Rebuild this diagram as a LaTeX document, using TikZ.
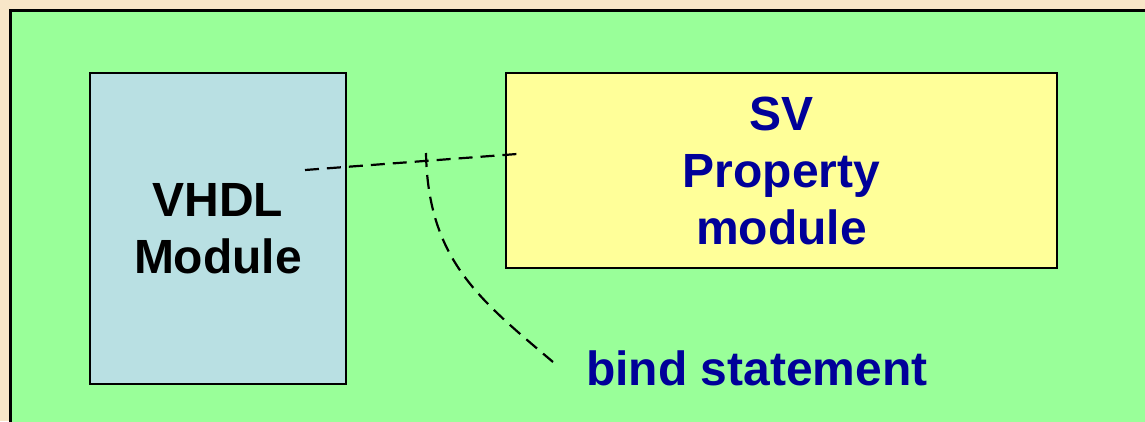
\documentclass[tikz,border=0pt]{standalone}
\usepackage{fontspec}
\setmainfont{Liberation Sans}
\usetikzlibrary{positioning}
\definecolor{pagebeige}{RGB}{248,230,200}
\definecolor{slidegreen}{RGB}{153,255,153}
\definecolor{vhdlblue}{RGB}{185,224,227}
\definecolor{svyellow}{RGB}{255,255,153}
\definecolor{textblue}{RGB}{0,0,153}

\begin{document}
\begin{tikzpicture}[x=1pt, y=-1pt,
    module/.style={rectangle, draw=black, line width=2pt, inner sep=0pt,
                   align=center, font=\fontsize{48}{57}\selectfont\bfseries},
    bindline/.style={draw=black, line width=2.2pt, dash pattern=on 14pt off 8pt},
]

% Page and slide area
\useasboundingbox (0,0) rectangle (1145,421);
\fill[pagebeige] (0,0) rectangle (1145,421);
\clip (0,0) rectangle (1145,421);
\draw[fill=slidegreen, line width=3pt] (10,10) rectangle (1200,480);

% Modules
\node[module, fill=vhdlblue, minimum width=256pt, minimum height=311pt] (vhdl) at (218,228.5) {VHDL\\Module};
\node[module, fill=svyellow, text=textblue, minimum width=551pt, minimum height=195pt] (sv) at (781.5,170.5) {SV\\Property\\module};

% Label
\node[font=\fontsize{48}{57}\selectfont\bfseries, text=textblue, anchor=base, inner sep=0pt] (bind) at (757,385) {bind statement};

% Binding lines
\coordinate (vhdlend) at (305,170);
\coordinate (svend) at (517,154);
\coordinate (tap) at (426,153);
\coordinate (bindend) at (553,362);
\draw[bindline] (vhdlend) -- (svend);
\draw[bindline] (tap) .. controls (428,260) and (480,300) .. (bindend);

\end{tikzpicture}
\end{document}
